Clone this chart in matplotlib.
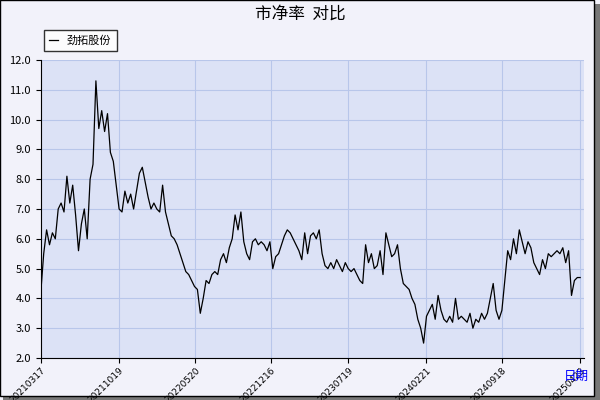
import numpy as np
import pandas as pd
import matplotlib
matplotlib.use("Agg")
import matplotlib.pyplot as plt
from matplotlib.patches import Rectangle

plt.rcParams['font.family'] = ['Noto Sans CJK SC', 'DejaVu Sans']

START, END = "2021-03-17", "2025-04-23"
TICKS = ["20210317", "20211019", "20220520", "20221216", "20230719",
         "20240221", "20240918", "20250423"]
PB = [4.2, 5.5, 6.3, 5.8, 6.2, 6.0, 7.0, 7.2, 6.9, 8.1, 7.2, 7.8, 6.8, 5.6, 6.5, 7.0,
      6.0, 8.0, 8.5, 11.3, 9.7, 10.3, 9.6, 10.2, 8.9, 8.6, 7.8, 7.0, 6.9, 7.6, 7.2,
      7.5, 7.0, 7.6, 8.2, 8.4, 7.9, 7.4, 7.0, 7.2, 7.0, 6.9, 7.8, 6.9, 6.5, 6.1, 6.0,
      5.8, 5.5, 5.2, 4.9, 4.8, 4.6, 4.4, 4.3, 3.5, 4.0, 4.6, 4.5, 4.8, 4.9, 4.8, 5.3,
      5.5, 5.2, 5.7, 6.0, 6.8, 6.3, 6.9, 5.9, 5.5, 5.3, 5.9, 6.0, 5.8, 5.9, 5.8, 5.6,
      5.9, 5.0, 5.4, 5.5, 5.8, 6.1, 6.3, 6.2, 6.0, 5.8, 5.6, 5.3, 6.2, 5.5, 6.1, 6.2,
      6.0, 6.3, 5.5, 5.1, 5.0, 5.2, 5.0, 5.3, 5.1, 4.9, 5.2, 5.0, 4.9, 5.0, 4.8, 4.6,
      4.5, 5.8, 5.2, 5.5, 5.0, 5.1, 5.6, 4.8, 6.2, 5.8, 5.4, 5.5, 5.8, 5.0, 4.5, 4.4,
      4.3, 4.0, 3.8, 3.3, 3.0, 2.5, 3.4, 3.6, 3.8, 3.3, 4.1, 3.6, 3.3, 3.2, 3.4, 3.2,
      4.0, 3.3, 3.4, 3.3, 3.2, 3.5, 3.0, 3.3, 3.2, 3.5, 3.3, 3.5, 4.0, 4.5, 3.6, 3.3,
      3.6, 4.6, 5.6, 5.3, 6.0, 5.5, 6.3, 5.9, 5.5, 5.9, 5.7, 5.2, 5.0, 4.8, 5.3, 5.0,
      5.5, 5.4, 5.5, 5.6, 5.5, 5.7, 5.2, 5.6, 4.1, 4.6, 4.7, 4.7]

dates = pd.date_range(START, END, periods=len(PB))

fig = plt.figure(figsize=(6, 4), dpi=100, facecolor="#F2F2FA")
fig.patches.append(Rectangle((0.005, 0.0), 0.995, 0.99, transform=fig.transFigure,
                             facecolor="#777777", edgecolor="none", zorder=-2))
fig.patches.append(Rectangle((0.0, 0.01), 0.99, 0.99, transform=fig.transFigure,
                             facecolor="#F2F2FA", edgecolor="black", lw=1, zorder=-1))
ax = fig.add_axes([0.068, 0.105, 0.905, 0.745], facecolor="#DCE2F6")
ax.plot(dates, PB, color="black", lw=0.9, label="劲拓股份")
ax.set_xticks(pd.to_datetime(TICKS))
ax.set_xticklabels(TICKS, rotation=45, fontsize=6.5, family="DejaVu Sans",
                   ha="right", rotation_mode="anchor")
ax.set_xlim(pd.Timestamp(START), pd.Timestamp("2025-05-03"))
ax.set_ylim(2, 12)
ax.set_yticks(np.arange(2, 12.1, 1))
ax.yaxis.set_major_formatter(matplotlib.ticker.FormatStrFormatter("%.1f"))
ax.tick_params(axis="y", labelsize=8)
ax.tick_params(axis="x", pad=2)
ax.grid(color="#B8C6EA", lw=0.8)
for s in ["top", "right"]:
    ax.spines[s].set_visible(False)
fig.text(0.5, 0.965, "市净率  对比", ha="center", va="center", fontsize=12)
fig.text(0.96, 0.06, "日期", ha="center", va="center", fontsize=9, color="blue")
leg = ax.legend(loc="lower left", bbox_to_anchor=(-0.005, 1.01), fontsize=8,
                frameon=True, fancybox=False, handlelength=0.8, borderpad=0.5)
leg.get_frame().set_edgecolor("black")
leg.get_frame().set_facecolor("white")
fig.savefig("out.png", dpi=100, facecolor=fig.get_facecolor())
